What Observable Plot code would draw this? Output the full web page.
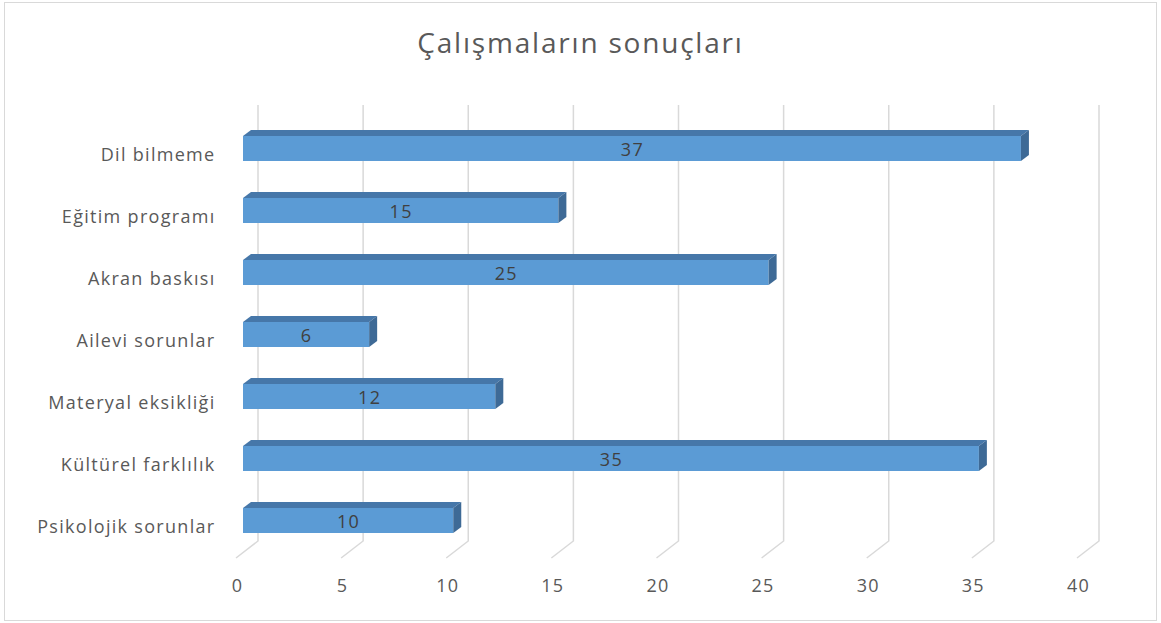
<!DOCTYPE html>
<html><head><meta charset="utf-8">
<script src="https://cdn.jsdelivr.net/npm/d3@7"></script>
<script src="https://cdn.jsdelivr.net/npm/@observablehq/plot@0.6"></script>
<style>
body{margin:0;background:#fff;}
#wrap{position:relative;width:1161px;height:623px;overflow:hidden;background:#fff;}
#frame{position:absolute;left:4px;top:2px;width:1151px;height:617px;border:1px solid #d9d9d9;box-sizing:content-box;}
#title{position:absolute;left:0;width:1161px;top:23px;text-align:center;font-family:"Open Sans";font-size:28px;line-height:normal;letter-spacing:1.8px;color:#595959;}
#chart{position:absolute;left:0;top:0;}
</style></head><body>
<div id="wrap"><div id="frame"></div><div id="title">Çalışmaların sonuçları</div><div id="chart"></div></div>
<script>
const categories = ["Dil bilmeme", "Eğitim programı", "Akran baskısı", "Ailevi sorunlar", "Materyal eksikliği", "Kültürel farklılık", "Psikolojik sorunlar"];
const values = [37, 15, 25, 6, 12, 35, 10];
const xTicks = [0, 5, 10, 15, 20, 25, 30, 35, 40];

const data = categories.map((c, i) => ({category: c, value: values[i]}));

const DX = 8, DY = -6; // bar depth
const gridColor = "#d9d9d9";

const chart = Plot.plot({
  width: 1161,
  height: 623,
  marginLeft: 243,
  marginRight: 77,
  marginTop: 105,
  marginBottom: 82,
  style: {fontFamily: "Open Sans", fontSize: "18px", letterSpacing: "1.3px", background: "transparent", overflow: "visible"},
  x: {domain: [0, 40], range: [243, 1084]},
  y: {domain: categories, range: [117, 551], paddingInner: 0.597, paddingOuter: 0.2985},
  marks: [
    // 3D gridlines: back wall vertical + floor slant
    Plot.ruleX(xTicks, {
      x: d => d,
      render(index, scales, values, dims) {
        const g = d3.create("svg:g").attr("fill", "none").attr("stroke", gridColor).attr("stroke-width", 1.5);
        const top = dims.marginTop, bot = dims.height - dims.marginBottom;
        for (const i of index) {
          const X = scales.x(xTicks[i]);
          g.append("path").attr("d", `M${X + 15},${top}V${bot}L${X - 7},${bot + 17}`);
        }
        return g.node();
      }
    }),
    // front faces
    Plot.barX(data, {x: "value", y: "category", fill: "#5b9bd5"}),
    // top and side faces
    Plot.barX(data, {
      x: "value", y: "category",
      render(index, scales) {
        const {x, y} = scales;
        const bw = y.bandwidth();
        const g = d3.create("svg:g");
        for (const i of index) {
          const d = data[i];
          const X0 = x(0), X2 = x(d.value), Y = y(d.category);
          g.append("polygon")
            .attr("points", [[X0, Y], [X0 + DX, Y + DY], [X2 + DX, Y + DY], [X2, Y]].join(" "))
            .attr("fill", "#4677a9");
          g.append("polygon")
            .attr("points", [[X2, Y], [X2 + DX, Y + DY], [X2 + DX, Y + bw + DY], [X2, Y + bw]].join(" "))
            .attr("fill", "#3e6a96");
        }
        return g.node();
      }
    }),
    Plot.text(data, {x: d => d.value / 2, y: "category", text: d => String(d.value), fill: "#404040", fontSize: 18, dy: 1}),
    Plot.axisY({tickSize: 0, tickPadding: 28, fontSize: 18, color: "#595959", label: null, dy: 6}),
    Plot.axisX({ticks: xTicks, tickSize: 0, tickPadding: 38, fontSize: 18, color: "#595959", label: null, dx: -6})
  ]
});
document.getElementById("chart").appendChild(chart);
</script>
</body></html>
